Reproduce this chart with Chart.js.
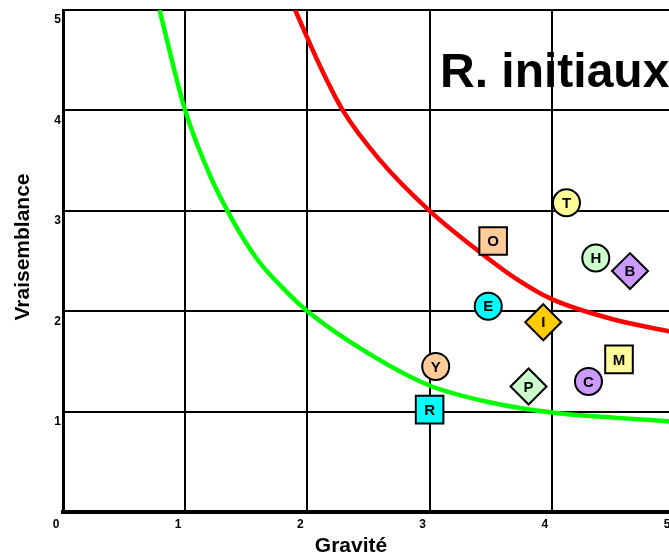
<!DOCTYPE html>
<html>
<head>
<meta charset="utf-8">
<script src="https://cdn.jsdelivr.net/npm/chart.js@4/dist/chart.umd.min.js"></script>
<style>
  html, body { margin: 0; padding: 0; background: #fff; overflow: hidden; }
  #wrap { width: 700px; height: 555px; }
</style>
</head>
<body>
<div id="wrap"><canvas id="carte" width="700" height="555"></canvas></div>
<script>
// risques : code, gravité, vraisemblance
const codes = ['T', 'O', 'H', 'B', 'E', 'I', 'Y', 'M', 'C', 'P', 'R'];
const gravite = [4.12, 3.52, 4.36, 4.64, 3.48, 3.93, 3.05, 4.55, 4.30, 3.81, 3.00];
const vraisemblance = [3.08, 2.70, 2.53, 2.40, 2.05, 1.89, 1.45, 1.52, 1.30, 1.25, 1.02];

// courbes limites
const vertX = [0.79, 1, 1.2, 1.4, 1.6, 1.8, 2, 2.5, 3, 3.5, 4, 4.5, 5];
const vertY = [5, 4, 3.36, 2.88, 2.5, 2.23, 2, 1.58, 1.26, 1.09, 0.99, 0.94, 0.9];
const rougeX = [1.9, 2.1, 2.29, 2.59, 3, 3.41, 3.7, 4, 4.5, 5];
const rougeY = [5, 4.45, 4, 3.51, 3, 2.59, 2.33, 2.12, 1.92, 1.79];

const tickLabels = ['0', '1', '2', '3', '4', '5'];
const titre = 'R. initiaux';
const titreX = 'Gravité';
const titreY = 'Vraisemblance';

// styles des marqueurs par code
const formes = { T: 'circle', O: 'rect', H: 'circle', B: 'rectRot', E: 'circle', I: 'rectRot',
                 Y: 'circle', M: 'rect', C: 'circle', P: 'rectRot', R: 'rect' };
const couleurs = { T: '#ffff99', O: '#ffcc99', H: '#ccffcc', B: '#cc99ff', E: '#00ffff', I: '#ffcc00',
                   Y: '#ffcc99', M: '#ffff99', C: '#cc99ff', P: '#ccffcc', R: '#00ffff' };
const tailles = { circle: 13.5, rect: 19.5, rectRot: 18 };

const police = "'Liberation Sans', Arial, sans-serif";

function points(xs, ys) {
    return xs.map((x, i) => ({ x: x, y: ys[i] }));
}

// lettres dans les marqueurs + titres
const decor = {
    id: 'decor',
    beforeDraw(chart) {
        const ctx = chart.ctx;
        const a = chart.chartArea;
        ctx.save();
        ctx.fillStyle = '#000';
        ctx.font = 'bold 48px ' + police;
        ctx.textAlign = 'left';
        ctx.textBaseline = 'alphabetic';
        ctx.fillText(titre, a.left + 377, a.top + 77);
        ctx.restore();
    },
    afterDatasetsDraw(chart) {
        const ctx = chart.ctx;
        const meta = chart.getDatasetMeta(0);
        ctx.save();
        ctx.fillStyle = '#000';
        ctx.font = 'bold 15px ' + police;
        ctx.textAlign = 'center';
        ctx.textBaseline = 'middle';
        meta.data.forEach((pt, i) => {
            ctx.fillText(codes[i], pt.x, pt.y + 1);
        });
        ctx.restore();
    },
    afterDraw(chart) {
        const ctx = chart.ctx;
        const a = chart.chartArea;
        ctx.save();
        ctx.fillStyle = '#000';
        ctx.font = 'bold 21px ' + police;
        ctx.textAlign = 'center';
        ctx.textBaseline = 'middle';
        ctx.fillText(titreX, a.left + 288, a.bottom + 34);
        ctx.translate(23, a.top + 237);
        ctx.rotate(-Math.PI / 2);
        ctx.fillText(titreY, 0, 0);
        ctx.restore();
    }
};

new Chart(document.getElementById('carte'), {
    type: 'scatter',
    data: {
        datasets: [
            {
                label: 'Risques',
                data: points(gravite, vraisemblance),
                pointStyle: ctx => formes[codes[ctx.dataIndex]],
                pointRadius: ctx => tailles[formes[codes[ctx.dataIndex]]],
                pointHoverRadius: ctx => tailles[formes[codes[ctx.dataIndex]]],
                backgroundColor: ctx => couleurs[codes[ctx.dataIndex]],
                borderColor: '#000',
                borderWidth: 2,
                showLine: false
            },
            {
                label: 'Limite basse',
                data: points(vertX, vertY),
                showLine: true,
                borderColor: '#00ff00',
                borderWidth: 4.5,
                pointRadius: 0,
                cubicInterpolationMode: 'monotone',
                fill: false
            },
            {
                label: 'Limite haute',
                data: points(rougeX, rougeY),
                showLine: true,
                borderColor: '#ff0000',
                borderWidth: 4.5,
                pointRadius: 0,
                cubicInterpolationMode: 'monotone',
                fill: false
            }
        ]
    },
    options: {
        responsive: false,
        animation: false,
        devicePixelRatio: 1,
        layout: { autoPadding: false, padding: { top: 10, right: 26, left: 0, bottom: 0 } },
        plugins: {
            legend: { display: false },
            tooltip: { enabled: false },
            title: { display: false }
        },
        scales: {
            x: {
                type: 'linear',
                min: 0,
                max: 5,
                afterFit(scale) {
                    scale.height = 43;
                    scale.paddingLeft = 0;
                    scale.paddingRight = 0;
                },
                ticks: {
                    stepSize: 1,
                    padding: 5,
                    labelOffset: -7,
                    color: '#000',
                    font: { family: police, size: 12, weight: 'bold' },
                    callback: v => tickLabels[v]
                },
                grid: { color: '#000', lineWidth: 2, drawTicks: false },
                border: { color: '#000', width: 4 }
            },
            y: {
                type: 'linear',
                min: 0,
                max: 5,
                afterFit(scale) {
                    scale.width = 63;
                    scale.paddingTop = 0;
                    scale.paddingBottom = 0;
                },
                ticks: {
                    stepSize: 1,
                    padding: 2,
                    labelOffset: 10,
                    color: '#000',
                    font: { family: police, size: 12, weight: 'bold' },
                    callback: v => (v === 0 ? '' : tickLabels[v])
                },
                grid: { color: '#000', lineWidth: 2, drawTicks: false },
                border: { color: '#000', width: 3 }
            }
        }
    },
    plugins: [decor]
});
</script>
</body>
</html>
